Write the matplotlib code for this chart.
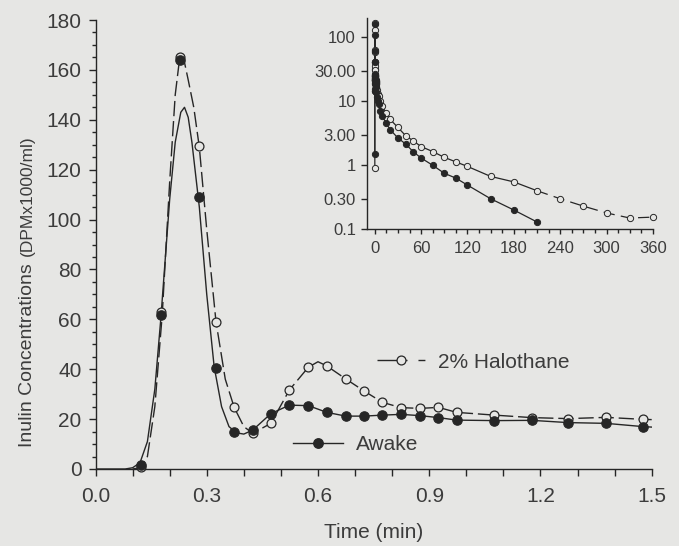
import matplotlib
matplotlib.use("Agg")
import matplotlib.pyplot as plt
from matplotlib.ticker import MultipleLocator, FixedLocator, FixedFormatter, NullLocator, FormatStrFormatter
from matplotlib.lines import Line2D

plt.rcParams['font.family'] = ['Liberation Sans', 'DejaVu Sans']

# ---------------- data ----------------
time_main = [0.123, 0.176, 0.228, 0.279, 0.324, 0.373, 0.424, 0.473, 0.523, 0.574, 0.624,
             0.675, 0.724, 0.774, 0.824, 0.875, 0.925, 0.974, 1.076, 1.177, 1.275, 1.377, 1.476]
awake_main = [1.5, 61.7, 164.0, 108.9, 40.4, 14.7, 15.6, 22.2, 25.6, 25.4, 22.7,
              21.2, 21.2, 21.6, 21.9, 21.4, 20.6, 19.6, 19.4, 19.5, 18.6, 18.3, 17.0]
halo_main = [0.9, 63.0, 165.3, 129.6, 59.1, 24.7, 14.3, 18.3, 31.7, 40.8, 41.3,
             36.1, 31.3, 26.7, 24.6, 24.3, 24.7, 22.7, 21.6, 20.6, 20.2, 20.7, 19.9]

# fitted curves (knots)
awake_fit_t = [0.0, 0.08, 0.10, 0.12, 0.14, 0.16, 0.176, 0.20, 0.215, 0.23, 0.24, 0.25, 0.26,
               0.28, 0.30, 0.32, 0.34, 0.36, 0.38, 0.40, 0.424, 0.473, 0.523, 0.574, 0.624,
               0.675, 0.724, 0.774, 0.824, 0.875, 0.925, 0.974, 1.076, 1.177, 1.275, 1.377, 1.476, 1.5]
awake_fit_v = [0.0, 0.0, 0.5, 2.5, 11, 32, 60, 108, 131, 143, 145, 141, 131,
               105, 70, 41, 25, 17, 14.5, 14.0, 15.6, 22.2, 25.6, 25.4, 22.7,
               21.2, 21.2, 21.6, 21.9, 21.4, 20.6, 19.6, 19.4, 19.5, 18.6, 18.3, 17.0, 16.8]
halo_fit_t = [0.10, 0.12, 0.14, 0.16, 0.18, 0.20, 0.215, 0.228, 0.24, 0.25, 0.265, 0.28, 0.30,
              0.325, 0.35, 0.374, 0.40, 0.424, 0.473, 0.523, 0.574, 0.60, 0.624, 0.675, 0.724,
              0.774, 0.824, 0.875, 0.925, 0.974, 1.076, 1.177, 1.275, 1.377, 1.476, 1.5]
halo_fit_v = [0.0, 0.5, 5, 25, 62, 115, 150, 166, 163, 156, 145, 129, 96,
              59, 36, 24.7, 17, 14.3, 18.3, 31.7, 40.8, 43, 41.3, 36.1, 31.3,
              26.7, 24.6, 24.3, 24.7, 22.7, 21.6, 20.6, 20.2, 20.7, 19.9, 19.8]

# late samples shown in the inset (minutes)
late_t_awake = [2, 3, 4, 5, 7, 10, 15, 20, 30, 40, 50, 60, 75, 90, 105, 120, 150, 180, 210]
late_awake = [14, 11.5, 10, 9, 7, 5.8, 4.5, 3.6, 2.67, 2.15, 1.62, 1.30, 1.0, 0.75, 0.63, 0.49, 0.30, 0.20, 0.13]
late_t_halo = [2, 3, 4, 5, 7, 10, 15, 20, 30, 40, 50, 60, 75, 90, 105, 120, 150, 180, 210,
               240, 270, 300, 330, 360]
late_halo = [17, 15, 13, 12, 10, 8.3, 6.5, 5.2, 3.9, 2.9, 2.4, 1.96, 1.64, 1.33, 1.13, 0.96, 0.67, 0.55, 0.40,
             0.30, 0.23, 0.18, 0.15, 0.155]

inset_yticks = [0.1, 0.3, 1, 3, 10, 30, 100]
inset_ylabels = ['0.1', '0.30', '1', '3.00', '10', '30.00', '100']

# ---------------- style ----------------
BG = '#e6e6e4'
LC = '#262626'
TC = '#3c3c3c'

W, H = 679, 546
fig = plt.figure(figsize=(W / 100, H / 100), dpi=100, facecolor=BG)


def rect(l, t, r, b):
    return [l / W, 1 - b / H, (r - l) / W, (b - t) / H]


ax = fig.add_axes(rect(95.5, 20, 651.7, 469))
ax.set_facecolor('none')
ax.set_xlim(0, 1.5)
ax.set_ylim(0, 180)
for s in ['top', 'right']:
    ax.spines[s].set_visible(False)
for s in ['left', 'bottom']:
    ax.spines[s].set_color(LC)
    ax.spines[s].set_linewidth(1.0)

ax.xaxis.set_major_locator(MultipleLocator(0.3))
ax.xaxis.set_minor_locator(MultipleLocator(0.1))
ax.xaxis.set_major_formatter(FormatStrFormatter('%.1f'))
ax.yaxis.set_major_locator(MultipleLocator(20))
ax.yaxis.set_minor_locator(MultipleLocator(5))
ax.tick_params(axis='both', which='both', direction='out', colors=LC, labelcolor=TC, width=1.0)
ax.tick_params(axis='x', which='both', length=5, pad=8, labelsize=15)
ax.tick_params(axis='y', which='major', length=5, pad=5, labelsize=15)
ax.tick_params(axis='y', which='minor', length=3)

# curves
ax.plot(halo_fit_t, halo_fit_v, color=LC, lw=1.0, ls=(0, (11, 3.5)))
ax.plot(awake_fit_t, awake_fit_v, color=LC, lw=1.0, ls='-')
ax.plot(time_main, halo_main, 'o', ms=6.4, mfc=BG, mec=LC, mew=0.9, clip_on=False, zorder=3)
ax.plot(time_main, awake_main, 'o', ms=6.8, mfc=LC, mec=LC, mew=0.8, clip_on=False, zorder=4)

ax.set_xlabel('Time (min)', fontsize=15, color=TC, labelpad=12)

# y-label with two font sizes
fig.text(27 / W, 1 - 447 / H, 'Inulin Concentrations', rotation=90, fontsize=14, color=TC,
         ha='left', va='center', rotation_mode='anchor')
fig.text(27.5 / W, 1 - 256 / H, '(DPMx1000/ml)', rotation=90, fontsize=12.5, color=TC,
         ha='left', va='center', rotation_mode='anchor')

# legends
h_halo = Line2D([], [], color=LC, lw=1.0, ls=(0, (21.6, 7.9, 5.0, 60)),
                marker='o', ms=6.4, mfc=BG, mec=LC, mew=0.9)
h_awake = Line2D([], [], color=LC, lw=1.0, ls='-', marker='o', ms=6.8, mfc=LC, mec=LC)
leg1 = fig.legend([h_halo], ['2% Halothane'], loc='center left',
                  bbox_to_anchor=(377 / W, 1 - 362 / H), bbox_transform=fig.transFigure,
                  frameon=False, borderpad=0, borderaxespad=0, handlelength=2.3,
                  handletextpad=0.62, numpoints=1, fontsize=15, labelcolor=TC)
leg2 = fig.legend([h_awake], ['Awake'], loc='center left',
                  bbox_to_anchor=(293 / W, 1 - 445 / H), bbox_transform=fig.transFigure,
                  frameon=False, borderpad=0, borderaxespad=0, handlelength=2.4,
                  handletextpad=0.62, numpoints=1, fontsize=15, labelcolor=TC)

# ---------------- inset ----------------
axi = fig.add_axes(rect(367, 18, 653, 229.3))
axi.set_facecolor('none')
axi.set_yscale('log')
axi.set_xlim(-10, 360)
axi.set_ylim(0.1, 200)
for s in ['top', 'right']:
    axi.spines[s].set_visible(False)
for s in ['left', 'bottom']:
    axi.spines[s].set_color(LC)
    axi.spines[s].set_linewidth(1.0)
axi.yaxis.set_major_locator(FixedLocator(inset_yticks))
axi.yaxis.set_major_formatter(FixedFormatter(inset_ylabels))
axi.yaxis.set_minor_locator(NullLocator())
axi.xaxis.set_major_locator(MultipleLocator(60))
axi.xaxis.set_minor_locator(MultipleLocator(15))
axi.tick_params(axis='both', which='both', direction='out', colors=LC, labelcolor=TC, width=1.0)
axi.tick_params(axis='y', which='major', length=4, pad=4, labelsize=12)
axi.tick_params(axis='x', which='major', length=3.5, pad=5, labelsize=12)
axi.tick_params(axis='x', which='minor', length=3)

inset_t_awake = time_main + late_t_awake
inset_awake = awake_main + late_awake
inset_t_halo = time_main + late_t_halo
inset_halo = halo_main + late_halo
n_solid = len(time_main) + late_t_halo.index(210) + 1

axi.plot(inset_t_halo[:n_solid], inset_halo[:n_solid], color=LC, lw=0.9, ls='-')
axi.plot(inset_t_halo[n_solid - 1:], inset_halo[n_solid - 1:], color=LC, lw=0.9, ls=(0, (9, 5)))
axi.plot(inset_t_awake, inset_awake, color=LC, lw=0.9, ls='-')
axi.plot(inset_t_halo, inset_halo, 'o', ms=4.5, mfc=BG, mec=LC, mew=0.7, clip_on=False, zorder=3)
axi.plot(inset_t_awake, inset_awake, 'o', ms=4.5, mfc=LC, mec=LC, mew=0.7, clip_on=False, zorder=4)

fig.savefig('out.png', dpi=100, facecolor=BG)
